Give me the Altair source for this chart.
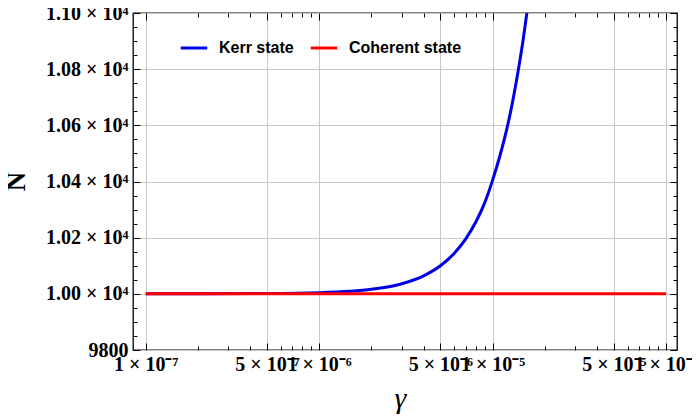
import json
import altair as alt
import pandas as pd

# ---- data ----
gamma_kerr = [1e-7, 2e-7, 5e-7, 1e-6, 1.5e-6, 2e-6, 3e-6, 4e-6, 5e-6, 6e-6, 7e-6,
              8e-6, 9e-6, 1e-5, 1.1e-5, 1.2e-5, 1.3e-5, 1.4e-5, 1.5e-5, 1.6e-5, 1.7e-5]
n_kerr = [10000, 10000.2, 10001, 10004, 10009, 10016, 10036, 10064, 10100, 10144, 10196,
          10256, 10324, 10405, 10490, 10580, 10680, 10790, 10905, 11030, 11160]
gamma_coh = [1e-7, 1e-4]
n_coh = [10000, 10000]

series_names = ["Kerr state", "Coherent state"]
series_colors = ["#0000e6", "#ff0000"]

x_major = [1e-7, 5e-7, 1e-6, 5e-6, 1e-5, 5e-5, 1e-4]
x_labels = ["1 × 10⁻⁷", "5 × 10⁻⁷", "1 × 10⁻⁶", "5 × 10⁻⁶", "1 × 10⁻⁵", "5 × 10⁻⁵", "1 × 10⁻⁴"]
x_minor = [2e-7, 3e-7, 4e-7, 6e-7, 7e-7, 8e-7, 9e-7,
           2e-6, 3e-6, 4e-6, 6e-6, 7e-6, 8e-6, 9e-6,
           2e-5, 3e-5, 4e-5, 6e-5, 7e-5, 8e-5, 9e-5]
y_major = [9800, 10000, 10200, 10400, 10600, 10800, 11000]
y_labels = ["9800", "1.00 × 10⁴", "1.02 × 10⁴", "1.04 × 10⁴", "1.06 × 10⁴", "1.08 × 10⁴", "1.10 × 10⁴"]
y_minor = [9850, 9900, 9950, 10050, 10100, 10150, 10250, 10300, 10350, 10450, 10500, 10550,
           10650, 10700, 10750, 10850, 10900, 10950]

x_domain = [8.45e-8, 1.156e-4]
y_domain = [9800, 11000]

df_kerr = pd.DataFrame({"g": gamma_kerr, "n": n_kerr, "s": series_names[0]})
df_coh = pd.DataFrame({"g": gamma_coh, "n": n_coh, "s": series_names[1]})

xs = alt.Scale(type="log", domain=x_domain, nice=False)
ys = alt.Scale(domain=y_domain, nice=False, zero=False)
cs = alt.Scale(domain=series_names, range=series_colors)

FONT = "Liberation Serif"
LABEL_SIZE = 20


def lab_expr(vals, labs):
    return "%s[indexof(%s, datum.value)]" % (json.dumps(labs, ensure_ascii=False), json.dumps(vals))


def tick_axis(orient, vals, size):
    return alt.Axis(orient=orient, values=vals, tickSize=size, offset=-size, domain=False,
                    grid=False, labels=False, title=None, tickColor="#000", tickWidth=1)


grid_x = alt.Axis(orient="bottom", values=x_major, grid=True, gridColor="#c8c8c8", gridWidth=1,
                  ticks=False, labels=False, domain=False, title=None)
grid_y = alt.Axis(orient="left", values=y_major, grid=True, gridColor="#c8c8c8", gridWidth=1,
                  ticks=False, labels=False, domain=False, title=None)

bottom_major = alt.Axis(orient="bottom", values=x_major, tickSize=7, offset=-7, domain=False,
                        grid=False, labels=True, labelExpr=lab_expr(x_major, x_labels),
                        labelFlush=False, labelOverlap=False, labelPadding=4,
                        labelFont=FONT, labelFontWeight="bold", labelFontSize=LABEL_SIZE,
                        labelColor="#000", labelBaseline="top",
                        title="γ", titleFont=FONT, titleFontStyle="italic", titleFontWeight="normal",
                        titleFontSize=30, titleColor="#000", titleX=267, titleY=55,
                        titleBaseline="middle", titleAlign="center",
                        tickColor="#000")
left_major = alt.Axis(orient="left", values=y_major, tickSize=7, offset=-7, domain=False,
                      grid=False, labels=True, labelExpr=lab_expr(y_major, y_labels),
                      labelFlush=False, labelOverlap=False, labelPadding=5,
                      labelFont=FONT, labelFontWeight="bold", labelFontSize=LABEL_SIZE,
                      labelColor="#000",
                      title="N", titleFont=FONT, titleFontWeight="bold", titleFontSize=27,
                      titleColor="#000", titleX=-124, titleY=168, titleAngle=270,
                      titleBaseline="middle", titleAlign="center",
                      tickColor="#000")

bottom_minor = tick_axis("bottom", x_minor, 4)
left_minor = tick_axis("left", y_minor, 4)
top_major = tick_axis("top", x_major, 7)
right_major = tick_axis("right", y_major, 7)
top_minor = tick_axis("top", x_minor, 4)
right_minor = tick_axis("right", y_minor, 4)

legend = alt.Legend(orient="none", legendX=46, legendY=20, direction="horizontal", title=None,
                    symbolType="stroke", symbolSize=700, symbolStrokeWidth=3,
                    labelFont="Liberation Sans", labelFontWeight="bold", labelFontSize=16,
                    labelColor="#000", labelOffset=10, columnPadding=10, padding=0)


def layer(df, xa, ya, visible=True, legend_on=False):
    m = alt.Chart(df).mark_line(clip=True, strokeWidth=3 if visible else 0,
                                opacity=1 if visible else 0, interpolate="monotone")
    enc = dict(x=alt.X("g:Q", scale=xs, axis=xa), y=alt.Y("n:Q", scale=ys, axis=ya))
    if visible:
        enc["color"] = alt.Color("s:N", scale=cs, legend=legend if legend_on else None)
    return m.encode(**enc)


chart = alt.layer(
    layer(df_coh, grid_x, grid_y, visible=False),
    layer(df_kerr, bottom_major, left_major, legend_on=True),
    layer(df_coh, bottom_minor, left_minor, legend_on=True),
    layer(df_coh, top_major, right_major, visible=False),
    layer(df_coh, top_minor, right_minor, visible=False),
).resolve_axis(x="independent", y="independent").properties(
    width=544, height=337, autosize="none",
    padding={"left": 125, "top": 5, "right": 15, "bottom": 64},
).configure_view(stroke="#000", strokeWidth=1.3)

chart.save("out.html", embed_options={"renderer": "svg", "actions": False})
